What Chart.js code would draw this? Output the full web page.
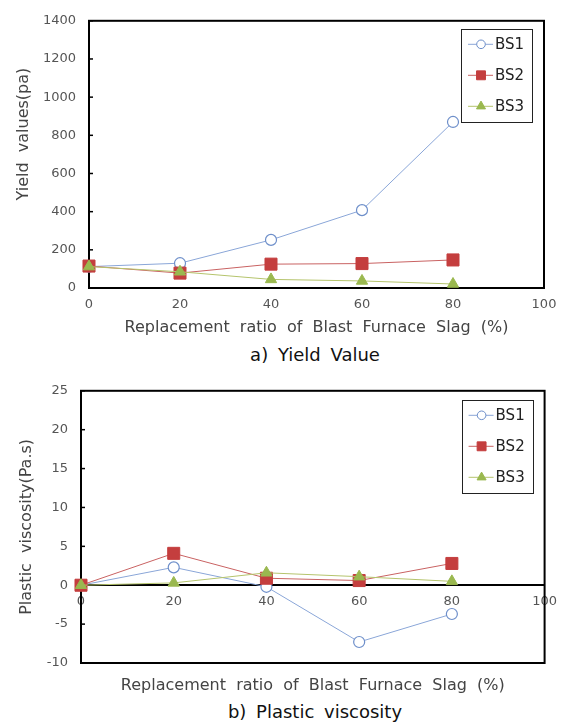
<!DOCTYPE html>
<html><head><meta charset="utf-8">
<script src="https://cdn.jsdelivr.net/npm/chart.js@4"></script>
<style>
html,body{margin:0;padding:0;background:#fff;}
body{width:566px;height:723px;position:relative;overflow:hidden;font-family:"DejaVu Sans",sans-serif;}
canvas{position:absolute;left:0;}
#c1{top:0;}
#c2{top:370px;}
.cap{position:absolute;left:0;width:630px;text-align:center;font-size:18px;color:#111;word-spacing:4px;line-height:20px;}
</style></head><body>
<canvas id="c1" width="566" height="338"></canvas>
<div class="cap" style="top:345px">a) Yield Value</div>
<canvas id="c2" width="566" height="325"></canvas>
<div class="cap" style="top:702px">b) Plastic viscosity</div>
<script>
// ---- data ----
const categories = [0, 20, 40, 60, 80];
const seriesNames = ['BS1', 'BS2', 'BS3'];
const yieldBS1 = [112, 130, 252, 408, 870];
const yieldBS2 = [115, 78, 125, 128, 147];
const yieldBS3 = [112, 85, 45, 37, 21];
const viscBS1 = [0, 2.3, -0.2, -7.3, -3.7];
const viscBS2 = [0, 4.1, 0.9, 0.6, 2.8];
const viscBS3 = [0, 0.3, 1.6, 1.1, 0.5];
const xTicks = [0, 20, 40, 60, 80, 100];
const yTicksTop = [0, 200, 400, 600, 800, 1000, 1200, 1400];
const yTicksBottom = [-10, -5, 0, 5, 10, 15, 20, 25];
const xTitle = 'Replacement  ratio  of  Blast  Furnace  Slag  (%)';
const yTitleTop = '        Yield  values(pa)';
const yTitleBottom = 'Plastic  viscosity(Pa.s)';

// ---- styles ----
const styles = [
  {line:'#8aa6d8', pb:'#6e8fca', bg:'#ffffff', ps:'circle', r:5.5, lr:4.3, order:3, bw:1.2},
  {line:'#c96262', pb:'#c43e3e', bg:'#c43e3e', ps:'rect', r:8.5, lr:6.3, order:2, bw:1},
  {line:'#b5c46c', pb:'#9ab84f', bg:'#9ab84f', ps:'triangle', r:6.5, lr:5.2, order:1, bw:1}
];
const tickFont = {family:'DejaVu Sans', size:13};
const titleFont = {family:'DejaVu Sans', size:16};
const tickColor = '#555';
const titleColor = '#444';

function makeDatasets(arrs){
  return arrs.map((vals, i) => {
    const s = styles[i];
    return {
      label: seriesNames[i],
      data: categories.map((c, j) => ({x: c, y: vals[j]})),
      borderColor: s.line, borderWidth: 1,
      pointStyle: s.ps, pointRadius: s.r,
      pointBorderColor: s.pb, pointBackgroundColor: s.bg, pointBorderWidth: s.bw,
      order: s.order, clip: false, tension: 0
    };
  });
}

const decor = {
  id: 'decor',
  beforeDatasetsDraw(chart){
    const {ctx, chartArea: a} = chart;
    ctx.save();
    ctx.strokeStyle = '#000'; ctx.lineWidth = 2;
    ctx.strokeRect(a.left, a.top, a.right - a.left, a.bottom - a.top);
    const ys = chart.scales.y;
    ctx.lineWidth = 1.5;
    ys.ticks.forEach(t => {
      const py = ys.getPixelForValue(t.value);
      ctx.beginPath(); ctx.moveTo(a.left, py); ctx.lineTo(a.left + 4, py); ctx.stroke();
    });
    ctx.restore();
  },
  afterDraw(chart){
    const {ctx, chartArea: a} = chart;
    const off = chart.options.plugins.decor;
    const bw = 71, bh = 93;
    const bx = a.right - off.right - bw, by = a.top + off.top;
    ctx.save();
    ctx.fillStyle = '#fff';
    ctx.fillRect(bx, by, bw, bh);
    ctx.strokeStyle = '#222'; ctx.lineWidth = 1;
    ctx.strokeRect(Math.round(bx) + 0.5, Math.round(by) + 0.5, bw, bh);
    chart.data.datasets.forEach((d, i) => {
      const s = styles[i];
      const y = by + 15.5 + 31 * i;
      ctx.strokeStyle = s.line; ctx.lineWidth = 1;
      ctx.beginPath(); ctx.moveTo(bx + 7, y); ctx.lineTo(bx + 32, y); ctx.stroke();
      ctx.strokeStyle = s.pb; ctx.fillStyle = s.bg;
      Chart.helpers.drawPoint(ctx, {pointStyle: s.ps, radius: s.lr, borderWidth: s.bw, rotation: 0}, bx + 20, y);
      ctx.fillStyle = '#222';
      ctx.font = '15px "DejaVu Sans"';
      ctx.textBaseline = 'middle'; ctx.textAlign = 'left';
      ctx.fillText(d.label, bx + 34, y + 1);
    });
    ctx.restore();
  }
};

function setTicks(list){ return function(axis){ axis.ticks = list.map(v => ({value: v})); }; }

// ---- chart a ----
new Chart(document.getElementById('c1'), {
  type: 'line',
  data: {datasets: makeDatasets([yieldBS1, yieldBS2, yieldBS3])},
  plugins: [decor],
  options: {
    responsive: false, animation: false, events: [],
    layout: {padding: {left: 0, right: 22, top: 16, bottom: 0}},
    plugins: {legend: {display: false}, tooltip: {enabled: false}, decor: {right: 12, top: 8}},
    scales: {
      x: {
        type: 'linear', min: 0, max: 100,
        afterBuildTicks: setTicks(xTicks),
        afterFit(s){ s.height = 50; },
        grid: {display: false, drawTicks: false}, border: {display: false},
        ticks: {font: tickFont, color: tickColor, padding: 9, maxRotation: 0, callback: v => String(v)},
        title: {display: true, text: xTitle, font: titleFont, color: titleColor, padding: {top: 0, bottom: 1}}
      },
      y: {
        type: 'linear', min: 0, max: 1400,
        afterBuildTicks: setTicks(yTicksTop),
        afterFit(s){ s.width = 89; },
        grid: {display: false, drawTicks: false}, border: {display: false},
        ticks: {font: tickFont, color: tickColor, padding: 13, callback: v => String(v)},
        title: {display: true, text: yTitleTop, font: titleFont, color: titleColor, padding: {top: 14, bottom: 0}}
      }
    }
  }
});

// ---- chart b ----
new Chart(document.getElementById('c2'), {
  type: 'line',
  data: {datasets: makeDatasets([viscBS1, viscBS2, viscBS3])},
  plugins: [decor],
  options: {
    responsive: false, animation: false, events: [],
    layout: {padding: {left: 0, right: 21, top: 19, bottom: 0}},
    plugins: {legend: {display: false}, tooltip: {enabled: false}, decor: {right: 12, top: 9}},
    scales: {
      x: {
        type: 'linear', min: 0, max: 100,
        afterBuildTicks: setTicks(xTicks),
        afterFit(s){ s.height = 32; },
        grid: {display: false, drawTicks: false}, border: {display: false},
        ticks: {display: false},
        title: {display: true, text: xTitle, font: titleFont, color: titleColor, padding: {top: 0, bottom: 0}}
      },
      x2: {
        type: 'linear', min: 0, max: 100, position: {y: 0},
        afterBuildTicks: setTicks(xTicks),
        grid: {display: false, drawTicks: false},
        border: {display: true, color: '#000', width: 2},
        ticks: {font: tickFont, color: tickColor, padding: 9, maxRotation: 0, callback: v => String(v)}
      },
      y: {
        type: 'linear', min: -10, max: 25,
        afterBuildTicks: setTicks(yTicksBottom),
        afterFit(s){ s.width = 81; },
        grid: {display: false, drawTicks: false}, border: {display: false},
        ticks: {font: tickFont, color: tickColor, padding: 13, callback: v => String(v)},
        title: {display: true, text: yTitleBottom, font: titleFont, color: titleColor, padding: {top: 17, bottom: 0}}
      }
    }
  }
});
</script>
</body></html>
